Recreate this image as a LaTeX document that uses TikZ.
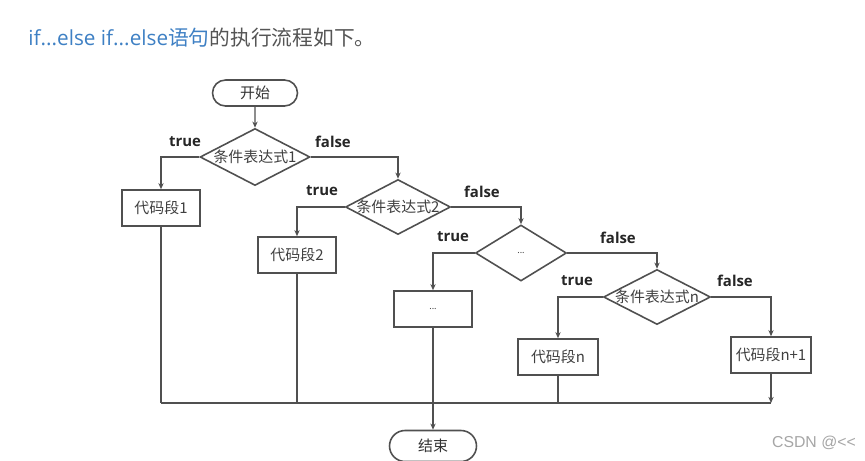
\documentclass[tikz,border=0pt]{standalone}
\usepackage{fontspec}
\setmainfont{Noto Sans CJK SC}
\newfontfamily\latfont{Open Sans}
\newfontfamily\wmfont{Liberation Sans}
\usetikzlibrary{arrows.meta,shapes.geometric,shapes.misc,calc}
\definecolor{figBlue}{RGB}{62,128,196}
\definecolor{figText}{RGB}{85,85,85}
\definecolor{figLine}{RGB}{80,80,80}
\tikzset{
  flow/.style={draw=figLine,line width=0.8pt,-{Stealth[length=3.5pt,width=3pt]}},
  link/.style={draw=figLine,line width=0.8pt},
  term/.style={rounded rectangle,draw=figLine,line width=0.9pt,minimum width=1.7cm,
    minimum height=0.52cm,inner sep=0pt,font=\fontsize{8.5}{10}\selectfont,text=black!80},
  decision/.style={diamond,draw=figLine,line width=0.9pt,inner sep=0pt,
    font=\fontsize{8.5}{10}\selectfont,text=black!75},
  block/.style={rectangle,draw=figLine,line width=0.9pt,minimum width=1.56cm,
    minimum height=0.72cm,inner sep=0pt,font=\fontsize{8.5}{10}\selectfont,text=black!75},
  branch/.style={font=\latfont\bfseries\fontsize{8.5}{10}\selectfont,text=black!85},
}
\begin{document}
\begin{tikzpicture}[x=0.02cm,y=-0.02cm]
\useasboundingbox (0,0) rectangle (865,460);
\fill[white] (0,0) rectangle (865,460);
\clip (0,0) rectangle (865,460);
% title line
\node[anchor=base west,inner sep=0pt,font=\fontsize{11.8}{14}\selectfont] (title) at (28,45)
  {\textcolor{figBlue}{{\latfont if...else if...else}语句}\textcolor{figText}{的执行流程如下。}};
% shapes
\node[term] (start) at (255,93) {开始};
\node[decision,minimum width=2.2cm,minimum height=1.14cm] (d1) at (255,157) {\makebox[0pt]{条件表达式1}};
\node[block] (b1) at (161,208) {代码段1};
\node[decision,minimum width=2.1cm,minimum height=1.1cm] (d2) at (398,207) {\makebox[0pt]{条件表达式2}};
\node[block] (b2) at (297,255) {代码段2};
\node[decision,minimum width=1.82cm,minimum height=1.12cm] (d3) at (521,253) {\makebox[0pt]{\tiny ...}};
\node[block] (b3) at (433,309) {\tiny ...};
\node[decision,minimum width=2.14cm,minimum height=1.1cm] (dn) at (657,297) {\makebox[0pt]{条件表达式n}};
\node[block,minimum width=1.6cm] (bn) at (558,357) {代码段n};
\node[block,minimum width=1.6cm] (bn1) at (771,355) {\makebox[0pt]{代码段n+1}};
\node[term,minimum width=1.74cm,minimum height=0.62cm] (stop) at (433,446) {结束};
% branch labels
\node[branch] (t1) at (185,142) {true};
\node[branch] (f1) at (333,142) {false};
\node[branch] (t2) at (322,191) {true};
\node[branch] (f2) at (482,192) {false};
\node[branch] (t3) at (453,237) {true};
\node[branch] (f3) at (618,238) {false};
\node[branch] (t4) at (577,281) {true};
\node[branch] (f4) at (735,281) {false};
% connectors
\draw[flow] (start) -- (d1);
\draw[flow] (d1.west) -| (b1.north);
\draw[flow] (d1.east) -| (d2.north);
\draw[flow] (d2.west) -| (b2.north);
\draw[flow] (d2.east) -| (d3.north);
\draw[flow] (d3.west) -| (b3.north);
\draw[flow] (d3.east) -| (dn.north);
\draw[flow] (dn.west) -| (bn.north);
\draw[flow] (dn.east) -| (bn1.north);
% merge line
\coordinate (bus) at (0,403);
\draw[link] (b1.south |- bus) -- (bn1.south |- bus);
\foreach \b in {b1,b2,bn} \draw[link] (\b.south) -- (\b.south |- bus);
\draw[flow] (bn1.south) -- (bn1.south |- bus);
\draw[flow] (b3.south) -- (stop.north);
\node[font=\wmfont\fontsize{9}{10}\selectfont,text=black!35,anchor=east] (mark) at (862,443) {CSDN @<<};
\end{tikzpicture}
\end{document}
